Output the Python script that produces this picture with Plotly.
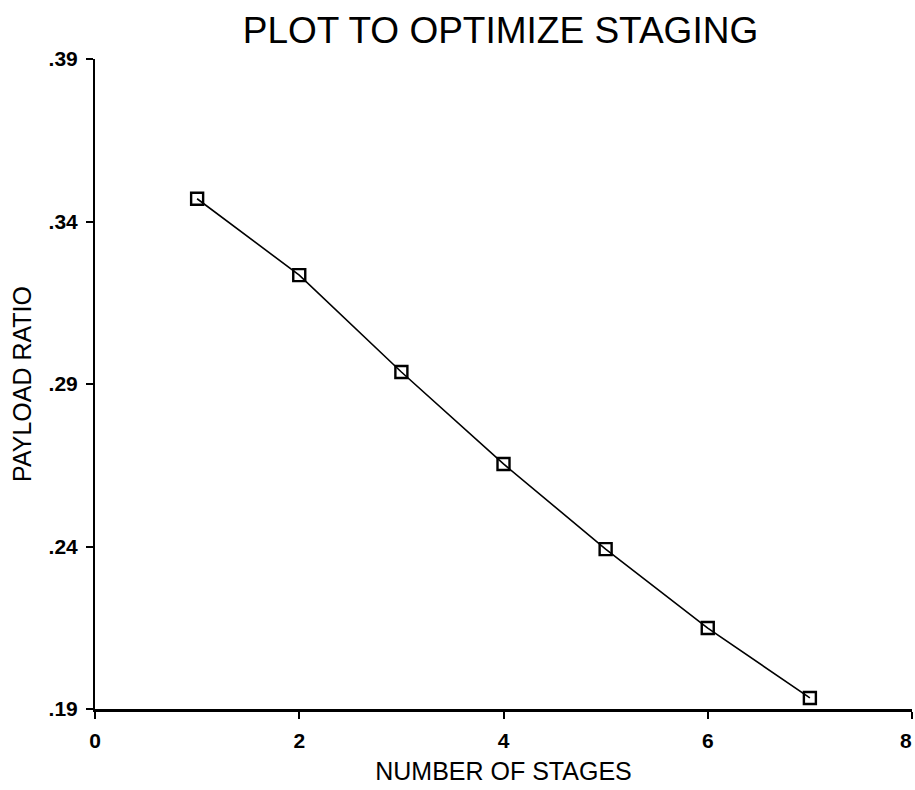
import plotly.graph_objects as go

stages = [1, 2, 3, 4, 5, 6, 7]
payload_ratio = [0.347, 0.3235, 0.2937, 0.2654, 0.2392, 0.2149, 0.1934]

x_ticks = [0, 2, 4, 6, 8]
y_ticks = [0.19, 0.24, 0.29, 0.34, 0.39]
y_tick_text = [".19", ".24", ".29", ".34", ".39"]

tick_font = dict(family="Liberation Sans", size=21, color="black", weight="bold")

fig = go.Figure()
fig.add_trace(go.Scatter(
    x=stages, y=payload_ratio, mode="lines+markers",
    line=dict(color="black", width=1.6),
    marker=dict(symbol="square-open", size=12, color="black", line=dict(width=2.4, color="black")),
    showlegend=False, cliponaxis=False,
))

fig.update_layout(
    width=915, height=790,
    margin=dict(l=95, r=3, t=59, b=81),
    paper_bgcolor="white", plot_bgcolor="white",
    title=dict(text="PLOT TO OPTIMIZE STAGING", x=0.547, xanchor="center", y=0.962, yanchor="middle",
               font=dict(family="Liberation Sans", size=37, color="black")),
)
fig.update_xaxes(
    range=[0, 8], tickvals=x_ticks, ticktext=[str(v) for v in x_ticks],
    showgrid=False, zeroline=False, showline=True, linecolor="black", linewidth=3,
    ticks="outside", ticklen=7, tickwidth=1.5, tickcolor="black",
    tickfont=tick_font,
    ticklabelstandoff=4,
    title=dict(text="NUMBER OF STAGES", font=dict(family="Liberation Sans", size=25, color="black"), standoff=12),
)
fig.update_yaxes(
    range=[0.19, 0.39], tickvals=y_ticks, ticktext=y_tick_text,
    showgrid=False, zeroline=False, showline=True, linecolor="black", linewidth=2,
    ticks="outside", ticklen=7, tickwidth=1.5, tickcolor="black",
    tickfont=tick_font,
    ticklabelstandoff=4,
    title=dict(text="PAYLOAD RATIO", font=dict(family="Liberation Sans", size=25, color="black"), standoff=10),
)

# The last x tick label sits at the page edge; draw it just inside the edge
fig.add_annotation(x=x_ticks[-1], y=0, xref="x", yref="paper", text=str(x_ticks[-1]),
                   showarrow=False, xanchor="right", xshift=2, yanchor="top", yshift=-18, font=tick_font)

fig.write_html("out.html")
